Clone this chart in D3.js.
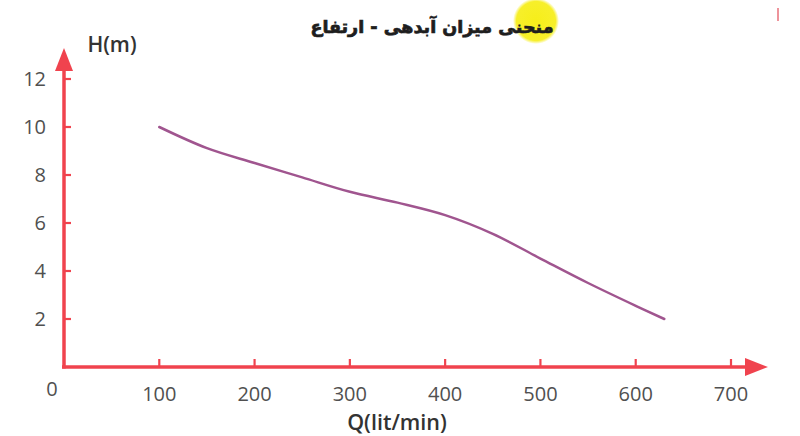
<!DOCTYPE html>
<html>
<head>
<meta charset="utf-8">
<script src="https://cdn.jsdelivr.net/npm/d3@7"></script>
<style>
  html, body { margin: 0; padding: 0; background: #fff; }
  svg { display: block; }
  .tick-label { font-family: "Open Sans", sans-serif; font-size: 20px; fill: #505050; }
  .axis-title { font-family: "Open Sans", sans-serif; font-weight: 600; fill: #333; }
</style>
</head>
<body>
<svg id="chart" width="800" height="436"></svg>
<script>
'use strict';

// ─── Data ─────────────────────────────────────────────────────────────────────
const flowQ  = [100, 150, 200, 250, 300, 350, 400, 450, 500, 550, 600, 630];
const headH  = [10, 9.12, 8.5, 7.9, 7.3, 6.85, 6.33, 5.55, 4.52, 3.5, 2.55, 2.0];
const xTicks = [100, 200, 300, 400, 500, 600, 700];
const yTicks = [2, 4, 6, 8, 10, 12];
const title  = 'منحنی میزان آبدهی - ارتفاع';

// ─── Layout ───────────────────────────────────────────────────────────────────
const axisColor = '#f0434e';
const lineColor = '#a0558f';

const x = d3.scaleLinear().domain([0, 700]).range([64, 731]);
const y = d3.scaleLinear().domain([0, 12]).range([367, 79]);

const svg = d3.select('#chart');

// Title with yellow highlight
const defs = svg.append('defs');
const glow = defs.append('radialGradient').attr('id', 'hl');
glow.append('stop').attr('offset', '0%').attr('stop-color', '#f6ee1a');
glow.append('stop').attr('offset', '85%').attr('stop-color', '#f7ef2a');
glow.append('stop').attr('offset', '100%').attr('stop-color', '#f7ef2a').attr('stop-opacity', 0);

svg.append('circle')
  .attr('cx', 536).attr('cy', 21).attr('r', 23)
  .attr('fill', 'url(#hl)');

svg.append('text')
  .attr('x', 432).attr('y', 33)
  .attr('text-anchor', 'middle')
  .attr('direction', 'rtl')
  .attr('font-family', '"DejaVu Sans", sans-serif')
  .attr('font-weight', 'bold')
  .attr('font-size', 17.5)
  .attr('fill', '#1e1e1e')
  .attr('stroke', '#1e1e1e')
  .attr('stroke-width', 0.7)
  .text(title);

// small stray mark top right
svg.append('line')
  .attr('x1', 778).attr('x2', 778).attr('y1', 8).attr('y2', 21)
  .attr('stroke', '#e8707a').attr('stroke-width', 1.5);

// ─── Axes ─────────────────────────────────────────────────────────────────────
const gAxes = svg.append('g');

gAxes.append('line')
  .attr('x1', x(0) - 2).attr('x2', 748)
  .attr('y1', y(0)).attr('y2', y(0))
  .attr('stroke', axisColor).attr('stroke-width', 3.5);

gAxes.append('line')
  .attr('x1', x(0)).attr('x2', x(0))
  .attr('y1', y(0) + 1.5).attr('y2', 66)
  .attr('stroke', axisColor).attr('stroke-width', 3.5);

// arrowheads
gAxes.append('path')
  .attr('d', `M${x(0)},48 L${x(0) + 9},71 L${x(0) - 9},71 Z`)
  .attr('fill', axisColor);
gAxes.append('path')
  .attr('d', `M768,${y(0)} L745,${y(0) - 9} L745,${y(0) + 9} Z`)
  .attr('fill', axisColor);

// tick marks (inward)
gAxes.selectAll('.xt').data(xTicks).join('line')
  .attr('x1', d => x(d)).attr('x2', d => x(d))
  .attr('y1', y(0)).attr('y2', y(0) - 8)
  .attr('stroke', axisColor).attr('stroke-width', 2.2);

gAxes.selectAll('.yt').data(yTicks).join('line')
  .attr('x1', x(0)).attr('x2', x(0) + 7)
  .attr('y1', d => y(d)).attr('y2', d => y(d))
  .attr('stroke', axisColor).attr('stroke-width', 2.2);

// tick labels
svg.selectAll('.xl').data(xTicks).join('text')
  .attr('class', 'tick-label')
  .attr('x', d => x(d)).attr('y', 401)
  .attr('text-anchor', 'middle')
  .text(d => d);

svg.selectAll('.yl').data(yTicks).join('text')
  .attr('class', 'tick-label')
  .attr('x', 46).attr('y', d => y(d) + 7)
  .attr('text-anchor', 'end')
  .text(d => d);

svg.append('text')
  .attr('class', 'tick-label')
  .attr('x', 52).attr('y', 396)
  .attr('text-anchor', 'middle')
  .text('0');

// axis titles
svg.append('text')
  .attr('class', 'axis-title')
  .attr('x', 397).attr('y', 430)
  .attr('text-anchor', 'middle')
  .attr('font-size', 21.5)
  .text('Q(lit/min)');

svg.append('text')
  .attr('class', 'axis-title')
  .attr('x', 112).attr('y', 52)
  .attr('text-anchor', 'middle')
  .attr('font-size', 21)
  .text('H(m)');

// ─── Curve ────────────────────────────────────────────────────────────────────
const pts = flowQ.map((q, i) => [q, headH[i]]);
const line = d3.line()
  .x(d => x(d[0]))
  .y(d => y(d[1]))
  .curve(d3.curveCatmullRom.alpha(0.5));

svg.append('path')
  .datum(pts)
  .attr('d', line)
  .attr('fill', 'none')
  .attr('stroke', lineColor)
  .attr('stroke-width', 2.5)
  .attr('stroke-linecap', 'round');
</script>
</body>
</html>
